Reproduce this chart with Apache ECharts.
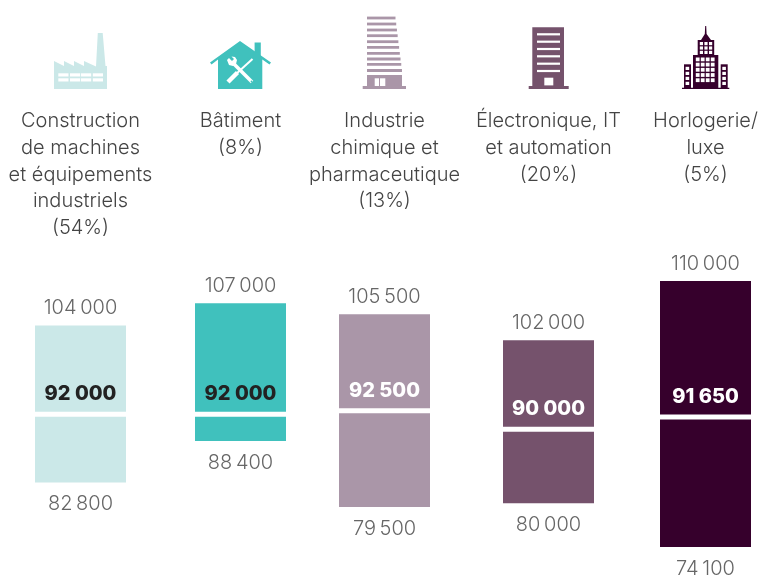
<!DOCTYPE html>
<html>
<head>
<meta charset="UTF-8">
<title>Salaires par secteur</title>
<script src="https://cdn.jsdelivr.net/npm/echarts@6/dist/echarts.min.js"></script>
<style>
html, body { margin: 0; padding: 0; background: #fff; }
#main { width: 760px; height: 576px; }
</style>
</head>
<body>
<div id="main"></div>
<script>
var sectors = [
	'Construction\nde machines\net équipements\nindustriels\n(54%)',
	'Bâtiment\n(8%)',
	'Industrie\nchimique et\npharmaceutique\n(13%)',
	'Électronique, IT\net automation\n(20%)',
	'Horlogerie/\nluxe\n(5%)'
];
var lows = [82800, 88400, 79500, 80000, 74100];
var medians = [92000, 92000, 92500, 90000, 91650];
var highs = [104000, 107000, 105500, 102000, 110000];

var colors = ['#cbe8e8', '#40c1bd', '#aa96a8', '#75526c', '#36002c'];
var medianColors = ['#222222', '#222222', '#ffffff', '#ffffff', '#ffffff'];
var slots = [35, 195, 339, 503, 660];
var slotWidth = 91;
var lightFont = 'Inter';

function spaced(v, sep) {
	return String(v).replace(/(\d)(\d{3})$/, '$1' + sep + '$2');
}

function renderRange(params, api) {
	var i = params.seriesIndex;
	var x = api.value(0);
	var low = api.coord([x, api.value(1)]);
	var median = api.coord([x, api.value(2)]);
	var high = api.coord([x, api.value(3)]);
	var w = api.size([1, 0])[0];
	var left = low[0] - w / 2;
	return {
		type: 'group',
		children: [
			{ type: 'rect', shape: { x: left, y: high[1], width: w, height: low[1] - high[1] }, style: { fill: colors[i] } },
			{ type: 'rect', shape: { x: left, y: median[1] - 2.5, width: w, height: 5 }, style: { fill: '#fff' } },
			{ type: 'text', x: low[0], y: high[1] - 17.5, style: { text: spaced(api.value(3), '\u2009'), fill: '#666', font: '300 20px ' + lightFont, textAlign: 'center', textVerticalAlign: 'middle' } },
			{ type: 'text', x: low[0], y: low[1] + 21.5, style: { text: spaced(api.value(1), '\u2009'), fill: '#666', font: '300 20px ' + lightFont, textAlign: 'center', textVerticalAlign: 'middle' } },
			{ type: 'text', x: low[0], y: median[1] - 20, style: { text: spaced(api.value(2), ' '), fill: medianColors[i], font: '800 20px Inter', textAlign: 'center', textVerticalAlign: 'middle' } }
		]
	};
}

// pictograms above the columns
function box(fill, x, y, w, h) {
	return { type: 'rect', silent: true, shape: { x: x, y: y, width: w, height: h }, style: { fill: fill } };
}
function poly(fill, pts) {
	return { type: 'polygon', silent: true, shape: { points: pts }, style: { fill: fill } };
}
function stroke(color, x1, y1, x2, y2, width) {
	return { type: 'line', silent: true, shape: { x1: x1, y1: y1, x2: x2, y2: y2 }, style: { stroke: color, lineWidth: width } };
}

function factoryIcon(c) {
	var out = [
		poly(c, [[54, 89], [54, 61], [64, 66], [64, 61], [74, 66], [74, 61], [84, 66], [84, 61], [96, 66.5], [97.8, 33], [102.7, 33], [105.5, 66], [107, 66], [107, 89]])
	];
	[58.3, 70, 81, 92.8].forEach(function (x) {
		out.push(box('#fff', x, 73.3, 10.2, 3.2));
		out.push(box('#fff', x, 78.3, 10.2, 3.2));
	});
	return out;
}

function houseIcon(c) {
	return [
		box(c, 254.6, 42.5, 6.2, 14),
		poly(c, [[210, 62.5], [240, 41], [271, 62.5], [269.5, 64.5], [262.3, 59.5], [262.3, 89], [218, 89], [218, 59.5], [211.5, 64.5]]),
		stroke('#fff', 228, 82, 237.5, 72.5, 4.5),
		stroke('#fff', 236, 74, 252.5, 59, 2),
		stroke('#fff', 232, 62, 252, 82, 3.6),
		poly('#fff', [[227, 60], [229, 58], [232, 61], [234, 59], [231.5, 56.5], [235, 57], [237, 60], [236, 64], [233, 66], [229, 65]]),
		{ type: 'circle', silent: true, shape: { cx: 251.5, cy: 81.5, r: 0.9 }, style: { fill: c } }
	];
}

function towerIcon(c) {
	var out = [];
	[18, 24, 30, 35.7, 41.7, 47.3, 53.3, 59, 64.3, 70.5].forEach(function (y, k) {
		out.push(box(c, 367, y - 1.4, 28.5 + k * 0.72, 2.8));
	});
	out.push(box(c, 367, 75, 35, 11.5));
	out.push(box(c, 362.7, 86, 43.3, 3));
	out.push(box('#fff', 374.7, 78.3, 4.3, 7.7));
	out.push(box('#fff', 380, 78.3, 5.3, 7.7));
	return out;
}

function officeIcon(c) {
	var out = [box(c, 532.3, 27.3, 31.7, 59), box(c, 528.7, 86, 40, 3)];
	[34.3, 41.7, 49, 56.3, 63.7, 71].forEach(function (y) {
		out.push(box('#fff', 537, y - 1.1, 23, 2.2));
	});
	out.push(box('#fff', 544.3, 77.7, 9, 7.7));
	return out;
}

function skylineIcon(c) {
	var out = [
		poly(c, [[705.2, 26], [706.2, 26], [706.6, 34], [711, 40], [714.2, 40], [714.2, 55], [697.7, 55], [697.7, 40], [701, 40], [704.8, 34]]),
		box(c, 693, 55, 25.3, 33),
		box(c, 684, 64.3, 7, 24),
		box(c, 720.7, 64.3, 7, 24),
		box(c, 682, 87.7, 47.3, 1.2)
	];
	[0, 1, 2].forEach(function (r) {
		[0, 1, 2].forEach(function (k) {
			out.push(box('#fff', 699.8 + k * 4.6, 42 + r * 4.4, 3.2, 3.2));
		});
	});
	[0, 1, 2, 3, 4].forEach(function (r) {
		[0, 1, 2, 3].forEach(function (k) {
			out.push(box('#fff', 695.8 + k * 5, 57.5 + r * 5.2, 3.8, 3.8));
		});
	});
	[0, 1, 2, 3].forEach(function (r) {
		out.push(box('#fff', 685.6, 66.8 + r * 5, 3.6, 3.2));
		out.push(box('#fff', 722.3, 66.8 + r * 5, 3.6, 3.2));
	});
	return out;
}

var chart = echarts.init(document.getElementById('main'));
chart.setOption({
	animation: false,
	grid: slots.map(function (left) {
		return { left: left, width: slotWidth, top: 281, height: 266, outerBoundsMode: 'none' };
	}),
	xAxis: sectors.map(function (name, i) {
		return {
			type: 'category',
			gridIndex: i,
			position: 'top',
			data: [name],
			axisLine: { show: false },
			axisTick: { show: false },
			axisLabel: {
				interval: 0,
				margin: 173.5,
				verticalAlign: 'top',
				fontFamily: lightFont,
				fontWeight: 300,
				fontSize: 20,
				lineHeight: 26.8,
				color: '#444'
			}
		};
	}),
	yAxis: sectors.map(function (name, i) {
		return { type: 'value', gridIndex: i, show: false, min: 74100, max: 110000 };
	}),
	series: sectors.map(function (name, i) {
		return {
			type: 'custom',
			xAxisIndex: i,
			yAxisIndex: i,
			renderItem: renderRange,
			data: [[0, lows[i], medians[i], highs[i]]]
		};
	}),
	graphic: {
		elements: [].concat(
			factoryIcon(colors[0]),
			houseIcon(colors[1]),
			towerIcon(colors[2]),
			officeIcon(colors[3]),
			skylineIcon(colors[4])
		)
	}
});
</script>
</body>
</html>
